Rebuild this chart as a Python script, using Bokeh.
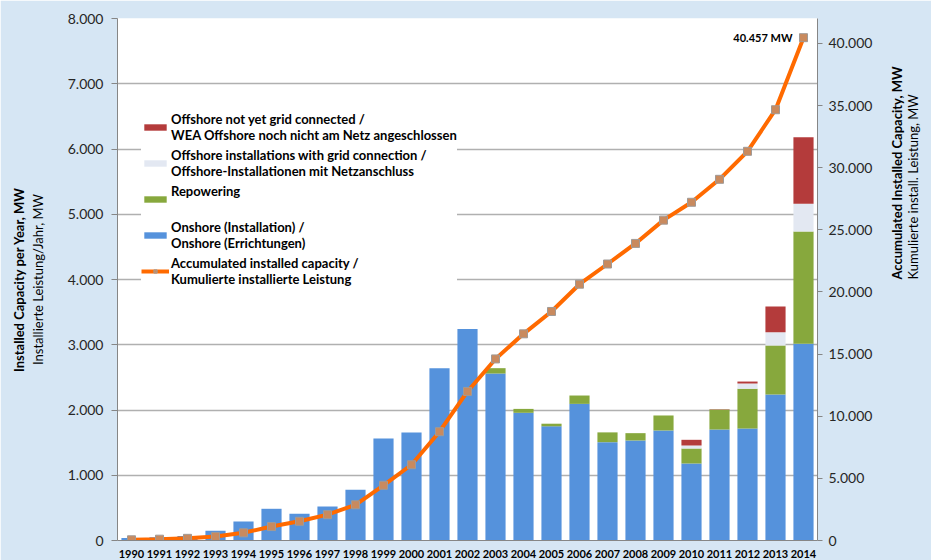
import math
from bokeh.plotting import figure
from bokeh.models import (ColumnDataSource, FactorRange, Range1d, LinearAxis, SingleIntervalTicker,
                          FixedTicker, CustomJSTickFormatter, Legend, LegendItem, Label)
from bokeh.embed import file_html
from bokeh.resources import INLINE

# ---------------- data ----------------
years = [str(y) for y in range(1990, 2015)]
onshore = [40, 50, 68, 150, 291, 486, 409, 521, 777, 1563, 1655, 2640, 3240,
           2559, 1957, 1750, 2094, 1507, 1533, 1686, 1180, 1701, 1716, 2238, 3015]
repowering = [0, 0, 0, 0, 0, 0, 0, 0, 0, 0, 0, 0, 0,
              82, 60, 40, 128, 150, 112, 230, 230, 306, 610, 750, 1720]
offshore_grid = [0, 0, 0, 0, 0, 0, 0, 0, 0, 0, 0, 0, 0,
                 0, 0, 0, 0, 0, 0, 0, 46, 0, 80, 204, 425]
offshore_not_connected = [0, 0, 0, 0, 0, 0, 0, 0, 0, 0, 0, 0, 0,
                          0, 0, 0, 0, 0, 0, 0, 87, 5, 30, 395, 1020]
cumulative = [56, 106, 174, 326, 618, 1121, 1546, 2080, 2874, 4442, 6095, 8754, 11994,
              14609, 16629, 18428, 20622, 22247, 23903, 25777, 27214, 29060, 31315, 34660, 40457]

left_title = ["Installed Capacity per Year, MW", "Installierte Leistung/Jahr, MW"]
right_title = ["Accumulated Installed Capacity, MW", "Kumulierte install. Leistung, MW"]

source = ColumnDataSource(dict(year=years, onshore=onshore, repowering=repowering,
                               offshore_grid=offshore_grid, offshore_nc=offshore_not_connected,
                               cumulative=cumulative))

FONT = "Lato"
fmt_code = "return Math.round(tick).toString().replace(/\\B(?=(\\d{3})+(?!\\d))/g, '.');"

p = figure(width=931, height=560, x_range=FactorRange(factors=years, range_padding=0),
           y_range=Range1d(0, 8000), output_backend="svg", toolbar_location=None,
           min_border_left=117, min_border_right=109, min_border_top=18, min_border_bottom=20)
p.border_fill_color = "#d6e6f4"
p.background_fill_color = "white"
p.outline_line_color = None
p.extra_y_ranges = {"cum": Range1d(0, 42000)}

bars = p.vbar_stack(["onshore", "repowering", "offshore_grid", "offshore_nc"], x="year", width=0.72,
                    source=source,
                    fill_color=["#5592dc", "#87a83d", "#e3e8f2", "#b43b3b"],
                    line_color=None)
r_blue, r_green, r_white, r_red = bars

r_line = p.line(x="year", y="cumulative", source=source, y_range_name="cum",
                line_color="#ff6a00", line_width=4)
r_mark = p.scatter(x="year", y="cumulative", source=source, y_range_name="cum", marker="square",
                   size=8, fill_color="#c98a5e", line_color="#a09a96", line_width=1)

# grid
p.xgrid.visible = False
p.ygrid.grid_line_color = "#b0b0b0"
p.ygrid.grid_line_width = 1.3

# left axis (ticks + normal title)
yl = p.yaxis[0]
yl.ticker = SingleIntervalTicker(interval=1000)
yl.formatter = CustomJSTickFormatter(code=fmt_code)
yl.axis_label = left_title[1]
yl.axis_label_standoff = 19

# right axis (ticks + bold title)
yr = LinearAxis(y_range_name="cum", ticker=SingleIntervalTicker(interval=5000),
                formatter=CustomJSTickFormatter(code=fmt_code))
yr.axis_label = right_title[0]
yr.axis_label_standoff = 22
p.add_layout(yr, "right")

for ax in (yl, yr):
    ax.major_label_text_font = FONT
    ax.major_label_text_font_size = "14px"
    ax.major_label_text_color = "#262626"
    ax.major_tick_in = 0
    ax.minor_tick_line_color = None
    ax.axis_line_color = "#868686"
    ax.major_tick_line_color = "#868686"
yl.major_tick_out = 6
yl.major_label_standoff = 8
yr.major_tick_out = 5
yr.major_label_standoff = 6

# extra title-only axes
yl2 = LinearAxis(ticker=FixedTicker(ticks=[]), axis_line_color=None, major_tick_line_color=None,
                 minor_tick_line_color=None)
yl2.axis_label = left_title[0]
yl2.axis_label_standoff = 0
p.add_layout(yl2, "left")

yr2 = LinearAxis(y_range_name="cum", ticker=FixedTicker(ticks=[]), axis_line_color=None,
                 major_tick_line_color=None, minor_tick_line_color=None)
yr2.axis_label = right_title[1]
yr2.axis_label_standoff = -4
p.add_layout(yr2, "right")

for ax, style in ((yl, "normal"), (yl2, "bold"), (yr, "bold"), (yr2, "normal")):
    ax.axis_label_text_font = FONT
    ax.axis_label_text_font_size = "13px"
    ax.axis_label_text_font_style = style
    ax.axis_label_text_color = "#000000"
for ax in (yr, yr2):
    ax.axis_label_orientation = math.pi / 2

xa = p.xaxis[0]
xa.major_label_text_font = FONT
xa.major_label_text_font_size = "11px"
xa.major_label_text_font_style = "bold"
xa.major_label_text_color = "#000000"
xa.major_tick_line_color = None
xa.axis_line_color = "#868686"
xa.major_label_standoff = 3

# end value annotation
end_txt = "{:,}".format(cumulative[-1]).replace(",", ".") + " MW"
p.add_layout(Label(x=len(years) - 0.5, y=cumulative[-1], y_range_name="cum", text=end_txt,
                   x_offset=-11, text_align="right", text_baseline="middle", text_font=FONT,
                   text_font_size="11px", text_font_style="bold", text_color="#000000"))

legend = Legend(items=[
    LegendItem(label="Offshore not yet grid connected /\nWEA Offshore noch nicht am Netz angeschlossen", renderers=[r_red]),
    LegendItem(label="Offshore installations with grid connection /\nOffshore-Installationen mit Netzanschluss", renderers=[r_white]),
    LegendItem(label="Repowering\n ", renderers=[r_green]),
    LegendItem(label="Onshore (Installation) /\nOnshore (Errichtungen)", renderers=[r_blue]),
    LegendItem(label="Accumulated installed capacity /\nKumulierte installierte Leistung", renderers=[r_line, r_mark]),
], location=(24, 253))
legend.background_fill_color = "white"
legend.background_fill_alpha = 1.0
legend.border_line_color = None
legend.padding = 5
legend.margin = 0
legend.spacing = 4
legend.glyph_width = 28
legend.glyph_height = 8
legend.label_standoff = 2
legend.label_text_font = FONT
legend.label_text_font_size = "13px"
legend.label_text_font_style = "bold"
legend.label_text_color = "#000000"
legend.label_text_line_height = 1.35
p.add_layout(legend)

open("out.html", "w").write(file_html(p, INLINE))
